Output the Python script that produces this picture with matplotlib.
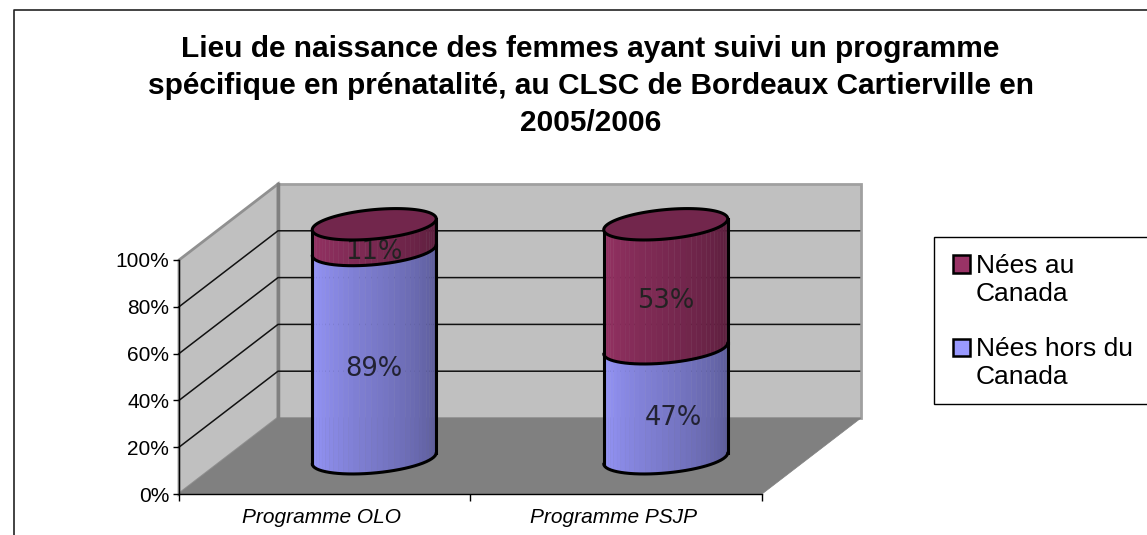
import matplotlib
matplotlib.use('Agg')
import matplotlib.pyplot as plt
import numpy as np

W, H = 1147, 535

title_lines = ['Lieu de naissance des femmes ayant suivi un programme',
               'spécifique en prénatalité, au CLSC de Bordeaux Cartierville en',
               '2005/2006']
categories = ['Programme OLO', 'Programme PSJP']
nees_hors = [89, 47]
nees_canada = [11, 53]
yticks = [0, 20, 40, 60, 80, 100]

blue = np.array([0x99, 0x99, 0xFF]) / 255
maroon = np.array([0x99, 0x33, 0x66]) / 255
top_color = '#72264C'

plt.rcParams['font.family'] = ['Liberation Sans', 'DejaVu Sans']

fig = plt.figure(figsize=(W / 100, H / 100), dpi=100)
# axes sits on the front plane of the 3d box
x0, x1, y0, y1 = 179, 762, 494, 260
ax = fig.add_axes([x0 / W, 1 - y0 / H, (x1 - x0) / W, (y0 - y1) / H])
ax.set_xlim(0, len(categories))
ax.set_ylim(0, 100)
ax.patch.set_visible(False)

# depth of the box, in data units
px_x = len(categories) / (x1 - x0)
px_y = 100 / (y0 - y1)
dx = 99 * px_x
dy = 76 * px_y

# walls and floor
ax.fill([0, dx, dx, 0], [0, dy, 100 + dy, 100], fc='#C0C0C0', ec='#909090', lw=2, zorder=1, clip_on=False)
ax.fill([dx, 2 + dx, 2 + dx, dx], [dy, dy, 100 + dy, 100 + dy], fc='#C0C0C0', ec='#A0A0A0', lw=2, zorder=1,
        clip_on=False)
ax.fill([0, 2, 2 + dx, dx], [0, 0, dy, dy], fc='#808080', ec='#808080', lw=0.5, zorder=2, clip_on=False)
ax.plot([dx, dx], [dy, 100 + dy], color='#808080', lw=2.5, zorder=2, clip_on=False)

# gridlines on both walls
for t in yticks[1:-1]:
    ax.plot([0, dx, 2 + dx * 0.985], [t, t + dy, t + dy], color='#111111', lw=1.1, zorder=3, clip_on=False)

# cylinders
a = 62 * px_x
b = 14.7 * px_y
k = 5.5 * px_y
depth = 0.47
t_front = np.linspace(np.pi, 2 * np.pi, 34)


def front_edge(cx, level):
    # lower half of the tilted ellipse at height level
    return cx + a * np.cos(t_front), level + b * np.sin(t_front) + k * np.cos(t_front)


def segment(cx, low, high, color):
    xs, ys_low = front_edge(cx, low)
    ys_high = front_edge(cx, high)[1]
    for i in range(len(xs) - 1):
        f = i / (len(xs) - 2)
        c = color * (1 - 0.42 * f)
        ax.fill([xs[i], xs[i + 1], xs[i + 1], xs[i]],
                [ys_low[i], ys_low[i + 1], ys_high[i + 1], ys_high[i]],
                fc=c, ec=c, lw=0.3, zorder=5, clip_on=False)
    ax.plot([xs[0], xs[0]], [ys_low[0], ys_high[0]], color='black', lw=2.2, zorder=7, clip_on=False)
    ax.plot([xs[-1], xs[-1]], [ys_low[-1], ys_high[-1]], color='black', lw=2.2, zorder=7, clip_on=False)
    ax.plot(xs, ys_low, color='black', lw=2.2, zorder=7, clip_on=False, solid_capstyle='round')


for i in range(len(categories)):
    cx = i + 0.5 + 0.5 * dx
    base = depth * dy
    segment(cx, base, base + nees_hors[i], blue)
    segment(cx, base + nees_hors[i], base + nees_hors[i] + nees_canada[i], maroon)
    # top cap
    tt = np.linspace(0, 2 * np.pi, 120)
    level = base + nees_hors[i] + nees_canada[i]
    ax.fill(cx + a * np.cos(tt), level + b * np.sin(tt) + k * np.cos(tt),
            fc=top_color, ec='black', lw=2.2, zorder=8, clip_on=False)

# data labels sit on the front of the cylinder
label_drop = 15 * px_y
for i in range(len(categories)):
    cx = i + 0.5 + 0.5 * dx
    xoff = 8 * px_x if i == 1 else 0
    ax.text(cx + xoff, depth * dy + nees_hors[i] / 2 - label_drop, f'{nees_hors[i]}%', family='DejaVu Sans',
            fontsize=18.5, color='#222233', ha='center', va='center', zorder=6)
    ax.text(cx, depth * dy + nees_hors[i] + nees_canada[i] / 2 - label_drop, f'{nees_canada[i]}%',
            family='DejaVu Sans', fontsize=18.5, color='#222222', ha='center', va='center', zorder=6)

# axes lines and ticks
for s in ['top', 'right']:
    ax.spines[s].set_visible(False)
for s in ['left', 'bottom']:
    ax.spines[s].set_color('black')
    ax.spines[s].set_linewidth(1)
    ax.spines[s].set_zorder(4)
ax.set_yticks(yticks)
ax.set_yticklabels([f'{t}%' for t in yticks], fontsize=15)
ax.set_xticks([0, 1, 2])
ax.set_xticklabels([])
ax.tick_params(axis='y', length=4, width=1, pad=3, color='black')
ax.tick_params(axis='x', length=5, width=1, color='black')
for i, c in enumerate(categories):
    ax.annotate(c, (i + 0.5, 0), xytext=(-2, -17), textcoords='offset points', ha='center', va='center',
                fontsize=15, style='italic')

# title
for i, line in enumerate(title_lines):
    fig.text(590.5 / W, 1 - (49 + i * 37) / H, line, ha='center', va='center', fontsize=21.5, fontweight='bold')

# legend drawn by hand since the labels wrap oddly
fig.add_artist(plt.Rectangle((933.5 / W, 1 - 403.5 / H), 214 / W, 166 / H, fc='white', ec='black', lw=1,
                             transform=fig.transFigure))
legend = [('Nées au\nCanada', maroon, 264), ('Nées hors du\nCanada', blue, 347)]
for lab, col, yp in legend:
    fig.add_artist(plt.Rectangle((953 / W, 1 - (yp + 8.5) / H), 17 / W, 17 / H, fc=col, ec='black', lw=1.8,
                                 transform=fig.transFigure))
    fig.text(976 / W, 1 - (yp + 16) / H, lab, ha='left', va='center', fontsize=19, linespacing=1.25)

# outer frame, only top and left show
fig.add_artist(plt.Line2D([13.5 / W, 13.5 / W, 1], [0, 1 - 10 / H, 1 - 10 / H], color='#222222', lw=1.2,
                          transform=fig.transFigure))

fig.savefig('out.png', dpi=100)
